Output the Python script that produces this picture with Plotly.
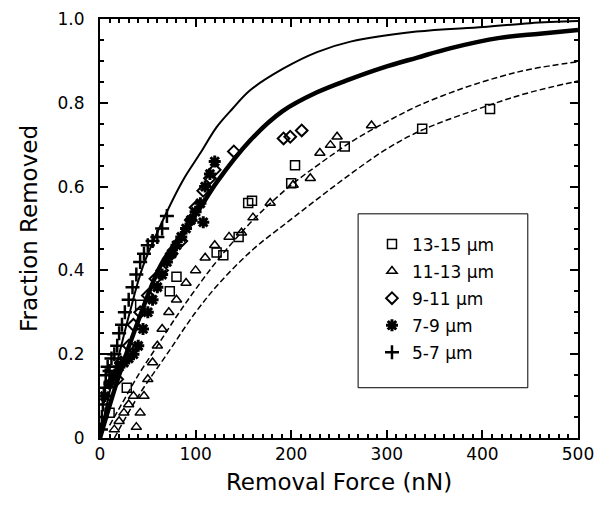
import plotly.graph_objects as go

# fitted curves
top_x = [0, 10, 20, 30, 45, 70, 87, 105, 122, 139, 157, 192, 227, 262, 331, 401, 450, 500]
top_y = [0, 0.11, 0.2, 0.29, 0.41, 0.54, 0.616, 0.68, 0.742, 0.787, 0.83, 0.882, 0.921, 0.946, 0.97, 0.981, 0.99, 0.995]

thick_x = [0, 20, 40, 63, 80, 105, 122, 157, 191, 227, 261, 296, 332, 366, 418, 460, 500]
thick_y = [0, 0.15, 0.28, 0.41, 0.47, 0.55, 0.61, 0.71, 0.78, 0.825, 0.856, 0.884, 0.908, 0.93, 0.955, 0.965, 0.974]

dash_hi_x = [10, 20, 40, 60, 80, 100, 125, 160, 198, 230, 265, 300, 335, 380, 418, 450, 500]
dash_hi_y = [0.03, 0.07, 0.15, 0.22, 0.29, 0.355, 0.43, 0.52, 0.6, 0.655, 0.71, 0.755, 0.795, 0.835, 0.862, 0.88, 0.898]

dash_lo_x = [15, 40, 70, 100, 125, 160, 196, 230, 265, 300, 337, 408, 450, 500]
dash_lo_y = [0.0, 0.1, 0.2, 0.3, 0.37, 0.45, 0.515, 0.575, 0.635, 0.69, 0.735, 0.795, 0.825, 0.852]

# measured points
sq_x = [10, 28, 42, 73, 80, 122, 129, 145, 155, 159, 200, 204, 256, 337, 408]
sq_y = [0.06, 0.12, 0.318, 0.35, 0.385, 0.443, 0.436, 0.48, 0.561, 0.566, 0.608, 0.651, 0.696, 0.738, 0.785]

tri_x = [15, 20, 25, 30, 35, 38, 42, 46, 50, 55, 60, 65, 72, 80, 90, 100, 110, 120, 135,
         148, 160, 178, 202, 220, 230, 241, 248, 284]
tri_y = [0.02, 0.04, 0.06, 0.08, 0.1, 0.026, 0.06, 0.1, 0.14, 0.18, 0.22, 0.26, 0.3, 0.33, 0.37, 0.4, 0.43, 0.46, 0.48,
         0.49, 0.526, 0.561, 0.604, 0.62, 0.68, 0.699, 0.719, 0.746]

dia_x = [18, 22, 30, 35, 42, 50, 58, 65, 75, 85, 95, 100, 108, 115, 120, 140, 192, 199, 211]
dia_y = [0.14, 0.18, 0.22, 0.27, 0.3, 0.34, 0.38, 0.4, 0.44, 0.47, 0.52, 0.55, 0.59, 0.62, 0.64, 0.684, 0.715, 0.719, 0.734]

ast_x = [5, 10, 15, 20, 25, 30, 35, 40, 45, 50, 55, 60, 65, 70, 75, 80, 85, 90, 95, 100, 105, 108, 110, 115, 120]
ast_y = [0.1, 0.13, 0.15, 0.17, 0.18, 0.19, 0.2, 0.22, 0.26, 0.3, 0.33, 0.36, 0.39, 0.42, 0.44, 0.46, 0.48, 0.5, 0.52,
         0.54, 0.56, 0.515, 0.6, 0.63, 0.66]

plus_x = [1, 2, 3, 4, 5, 6, 8, 10, 12, 15, 18, 20, 23, 26, 30, 34, 38, 42, 46, 50, 55, 60, 65, 70]
plus_y = [0.02, 0.05, 0.08, 0.1, 0.12, 0.15, 0.17, 0.16, 0.19, 0.2, 0.22, 0.25, 0.27, 0.3, 0.33, 0.36, 0.39, 0.42,
          0.44, 0.46, 0.47, 0.48, 0.5, 0.53]

FONT = "DejaVu Sans"

fig = go.Figure()

for xs, ys, width, dash in [
    (top_x, top_y, 2, "solid"),
    (thick_x, thick_y, 4.5, "solid"),
    (dash_hi_x, dash_hi_y, 1.5, "6px,3px"),
    (dash_lo_x, dash_lo_y, 1.5, "6px,3px"),
]:
    fig.add_trace(go.Scatter(x=xs, y=ys, mode="lines", showlegend=False,
                             line={"color": "black", "width": width, "dash": dash, "shape": "spline"}))

series = [
    ("13-15 µm", sq_x, sq_y, "square-open", 9, 1.5),
    ("11-13 µm", tri_x, tri_y, "triangle-up-open", 9, 1.5),
    ("9-11 µm", dia_x, dia_y, "diamond-open", 9, 2),
    ("7-9 µm", ast_x, ast_y, "asterisk-open", 10, 3),
    ("5-7 µm", plus_x, plus_y, "cross-thin-open", 10, 2.5),
]
for name, xs, ys, sym, size, lw in series:
    fig.add_trace(go.Scatter(
        x=xs, y=ys, name=name, mode="markers", legendgroup=name,
        marker={"symbol": sym, "size": size, "color": "black", "line": {"color": "black", "width": lw}},
    ))

axis_common = dict(
    showline=True, linecolor="black", linewidth=2, mirror="ticks",
    ticks="inside", ticklen=8, tickwidth=2, tickcolor="black",
    showgrid=False, zeroline=False, automargin=False,
    tickfont={"family": FONT, "size": 17, "color": "black"},
)

# page body adds an 8px offset, so the figure is 8px smaller and left/top margins shifted
fig.update_layout(
    width=597, height=498,
    margin={"l": 92, "r": 27, "t": 11, "b": 68},
    paper_bgcolor="white", plot_bgcolor="white",
    xaxis=dict(axis_common, range=[0, 500], tickvals=[0, 100, 200, 300, 400, 500],
               minor={"dtick": 10, "ticks": "inside", "ticklen": 4, "tickcolor": "black"},
               title={"text": "Removal Force (nN)", "font": {"family": FONT, "size": 23, "color": "black"},
                      "standoff": 10}),
    yaxis=dict(axis_common, range=[0, 1], tickvals=[0, 0.2, 0.4, 0.6, 0.8, 1.0],
               ticktext=["0", "0.2", "0.4", "0.6", "0.8", "1.0"],
               minor={"dtick": 0.05, "ticks": "inside", "ticklen": 4, "tickcolor": "black"},
               ticklabelstandoff=10,
               title={"text": "Fraction Removed", "font": {"family": FONT, "size": 23, "color": "black"},
                      "standoff": 14}),
    legend={"x": 0.569, "y": 0.505, "xanchor": "left", "yanchor": "top",
            "bgcolor": "rgba(0,0,0,0)", "borderwidth": 0,
            "traceorder": "grouped", "tracegroupgap": 2,
            "font": {"family": FONT, "size": 17, "color": "black"}},
    shapes=[{"type": "rect", "xref": "paper", "yref": "paper",
             "x0": 0.540, "x1": 0.895, "y0": 0.120, "y1": 0.535,
             "line": {"color": "black", "width": 1}, "fillcolor": "white", "layer": "below"}],
)

fig.write_html("out.html")
